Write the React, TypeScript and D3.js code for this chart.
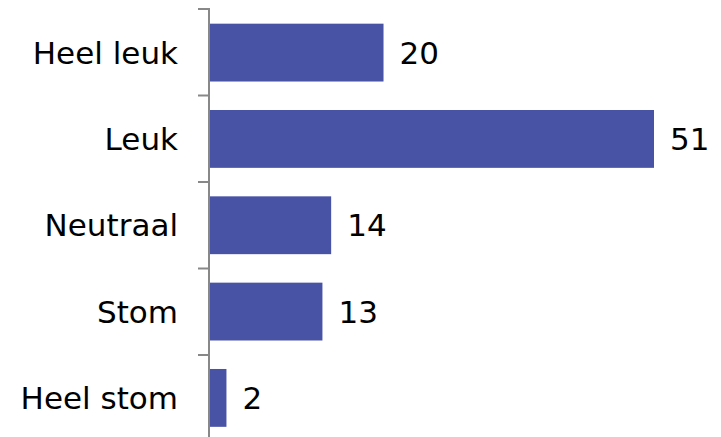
import React from "react";
import * as d3 from "d3";

const categories = ["Heel leuk", "Leuk", "Neutraal", "Stom", "Heel stom"];
const values = [20, 51, 14, 13, 2];

const W = 721;
const H = 437;

export default function App() {
  const axisX = 209;
  const top = 9;
  const step = 86.5;
  const y = d3
    .scaleBand<string>()
    .domain(categories)
    .range([top, top + step * categories.length])
    .paddingInner(0.33)
    .paddingOuter(0.17);
  const x = d3.scaleLinear().domain([0, 51]).range([axisX, 654]);
  const font = "'DejaVu Sans', Verdana, sans-serif";
  const fs = 31;
  return (
    <svg width={W} height={H} style={{ position: "absolute", left: 0, top: 0 }}>
      <rect width={W} height={H} fill="#fff" />
      {categories.map((c, i) => (
        <g key={c}>
          <rect
            x={x(0) + 1}
            y={y(c)!}
            width={x(values[i]) - x(0) - 1}
            height={y.bandwidth()}
            fill="#4953A6"
          />
          <text
            x={x(values[i]) + 16}
            y={y(c)! + y.bandwidth() / 2}
            dy="0.36em"
            fontFamily={font}
            fontSize={fs}
            fill="#000"
          >
            {values[i]}
          </text>
          <text
            x={axisX - 31}
            y={y(c)! + y.bandwidth() / 2}
            dy="0.36em"
            textAnchor="end"
            fontFamily={font}
            fontSize={fs}
            fill="#000"
          >
            {c}
          </text>
        </g>
      ))}
      {d3.range(categories.length + 1).map((i) => (
        <line
          key={i}
          x1={axisX - 11}
          x2={axisX}
          y1={top + step * i}
          y2={top + step * i}
          stroke="#888"
          strokeWidth={2}
        />
      ))}
      <line x1={axisX} x2={axisX} y1={top - 1} y2={H} stroke="#888" strokeWidth={2} />
    </svg>
  );
}
